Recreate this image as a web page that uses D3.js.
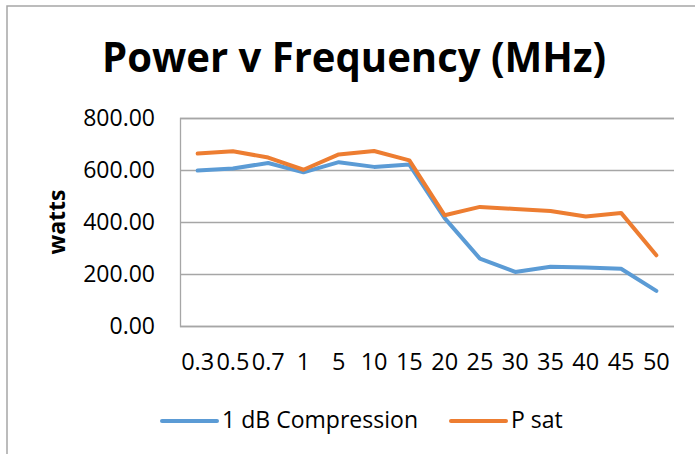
<!DOCTYPE html>
<html>
<head>
<meta charset="utf-8">
<script src="https://cdn.jsdelivr.net/npm/d3@7"></script>
<style>
  body { margin: 0; background: #fff; }
  text { font-family: "Open Sans", sans-serif; fill: #000; }
</style>
</head>
<body>
<div id="chart-area"></div>
<script>
// chart data
var categories = ["0.3", "0.5", "0.7", "1", "5", "10", "15", "20", "25", "30", "35", "40", "45", "50"];
var compression = [598, 606, 627, 591, 630, 612, 621, 415, 259, 208, 228, 225, 220, 135];
var psat = [663, 672, 648, 601, 660, 673, 637, 426, 458, 450, 442, 421, 435, 272];
var yTicks = [0, 200, 400, 600, 800];
var seriesNames = ["1 dB Compression", "P sat"];

var W = 695, H = 454;
var plot = { left: 180, right: 674, top: 118, bottom: 326 };
var gridColor = "#a6a6a6";

var svg = d3.select("#chart-area")
	.append("svg")
	.attr("width", W)
	.attr("height", H);

svg.append("rect")
	.attr("width", W).attr("height", H)
	.attr("fill", "#fff");

// chart border (runs off the right/bottom edge like the reference)
svg.append("rect")
	.attr("x", 7).attr("y", 6)
	.attr("width", W + 20).attr("height", H + 20)
	.attr("fill", "none")
	.attr("stroke", gridColor)
	.attr("stroke-width", 1.5);

var x = d3.scaleBand()
	.domain(categories)
	.range([plot.left, plot.right])
	.padding(0);

var y = d3.scaleLinear()
	.domain([0, 800])
	.range([plot.bottom, plot.top]);

// gridlines + y labels
var yAxis = d3.axisLeft(y)
	.tickValues(yTicks)
	.tickSize(-(plot.right - plot.left))
	.tickPadding(25)
	.tickFormat(d3.format(".2f"));

var yg = svg.append("g")
	.attr("transform", "translate(" + plot.left + ",0)")
	.call(yAxis);
yg.select(".domain").attr("stroke", gridColor).attr("stroke-width", 1.3);
yg.selectAll(".tick line").attr("stroke", gridColor).attr("stroke-width", 1.3);
yg.selectAll(".tick text")
	.attr("font-family", "Open Sans")
	.attr("font-size", "23px")
	.attr("fill", "#000");

// x labels
var xAxis = d3.axisBottom(x).tickSize(0).tickPadding(0);
var xg = svg.append("g")
	.attr("transform", "translate(0," + plot.bottom + ")")
	.call(xAxis);
xg.select(".domain").remove();
xg.selectAll(".tick text")
	.attr("font-family", "Open Sans")
	.attr("font-size", "23.5px")
	.attr("fill", "#000")
	.attr("dy", null)
	.attr("y", 44);

// title
svg.append("text")
	.attr("x", 354)
	.attr("y", 72)
	.attr("text-anchor", "middle")
	.attr("font-size", "41px")
	.attr("font-weight", "bold")
	.attr("textLength", 504)
	.attr("lengthAdjust", "spacingAndGlyphs")
	.text("Power v Frequency (MHz)");

// y axis title
svg.append("text")
	.attr("transform", "translate(65,222) rotate(-90)")
	.attr("text-anchor", "middle")
	.attr("font-size", "23px")
	.attr("font-weight", "bold")
	.text("watts");

var line = d3.line()
	.x(function(d, i){ return x(categories[i]) + x.bandwidth() / 2; })
	.y(function(d){ return y(d); });

var colors = ["#5b9bd5", "#ed7d31"];
[compression, psat].forEach(function(s, i){
	svg.append("path")
		.datum(s)
		.attr("fill", "none")
		.attr("stroke", colors[i])
		.attr("stroke-width", 4)
		.attr("stroke-linejoin", "round")
		.attr("stroke-linecap", "round")
		.attr("d", line);
});

// legend
var legendX = [162, 451];
seriesNames.forEach(function(name, i){
	svg.append("line")
		.attr("x1", legendX[i]).attr("x2", legendX[i] + 55)
		.attr("y1", 421).attr("y2", 421)
		.attr("stroke", colors[i])
		.attr("stroke-width", 4)
		.attr("stroke-linecap", "round");
	svg.append("text")
		.attr("x", legendX[i] + 60)
		.attr("y", 428)
		.attr("font-size", "23px")
		.attr("textLength", i === 0 ? 196 : null)
		.text(name);
});
</script>
</body>
</html>
